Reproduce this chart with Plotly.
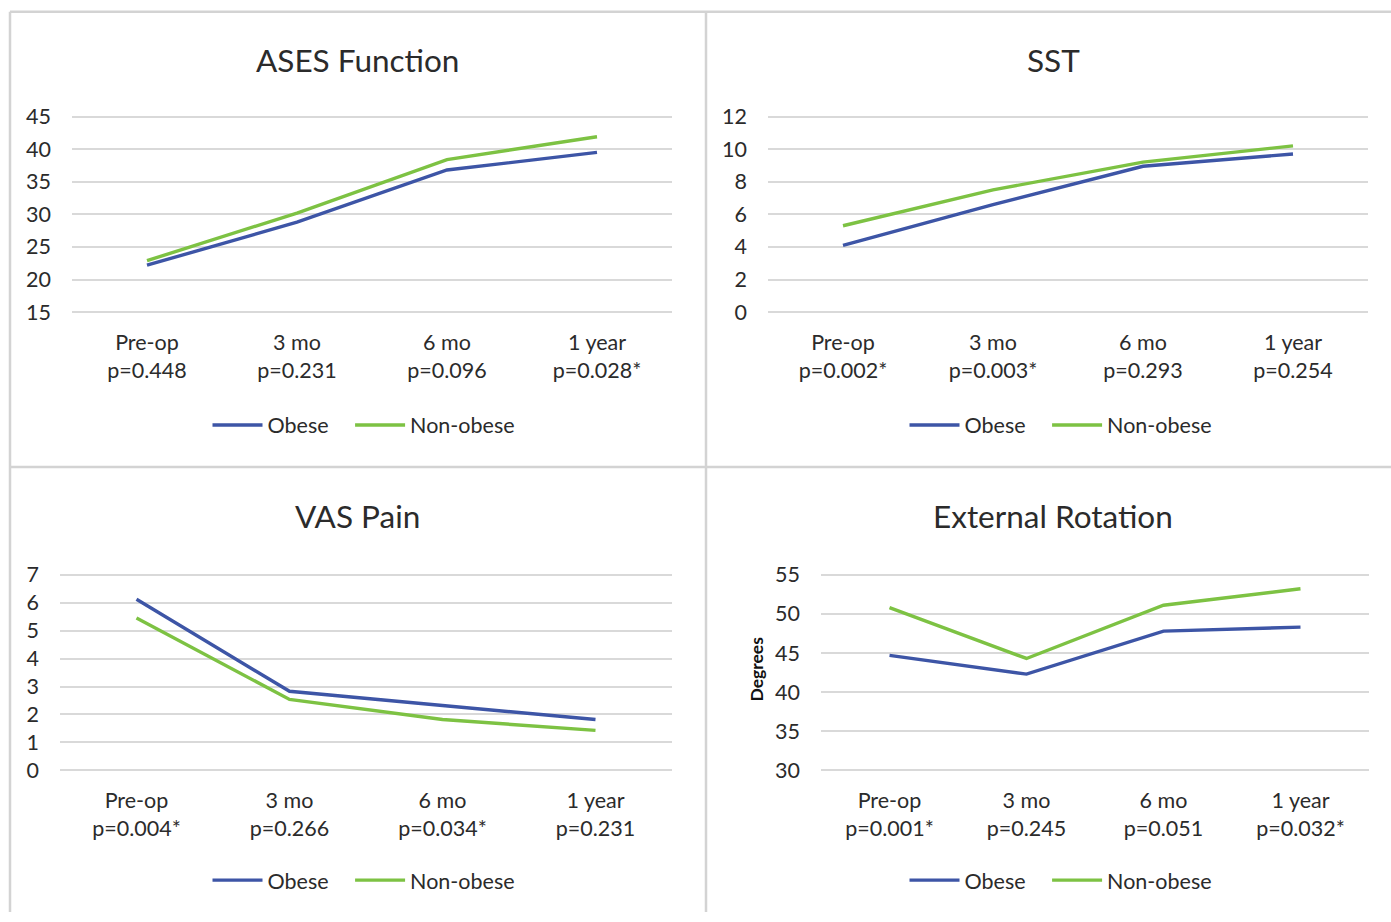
import plotly.graph_objects as go

W, H = 1391, 922

timepoints = ["Pre-op", "3 mo", "6 mo", "1 year"]

ases_p = ["p=0.448", "p=0.231", "p=0.096", "p=0.028*"]
ases_obese = [22.2, 28.8, 36.8, 39.5]
ases_nonobese = [22.9, 30.2, 38.4, 41.9]

sst_p = ["p=0.002*", "p=0.003*", "p=0.293", "p=0.254"]
sst_obese = [4.1, 6.6, 8.95, 9.7]
sst_nonobese = [5.3, 7.5, 9.2, 10.2]

vas_p = ["p=0.004*", "p=0.266", "p=0.034*", "p=0.231"]
vas_obese = [6.12, 2.83, 2.32, 1.82]
vas_nonobese = [5.45, 2.54, 1.82, 1.43]

er_p = ["p=0.001*", "p=0.245", "p=0.051", "p=0.032*"]
er_obese = [44.7, 42.3, 47.8, 48.3]
er_nonobese = [50.8, 44.3, 51.1, 53.2]

titles = ["ASES Function", "SST", "VAS Pain", "External Rotation"]
y_ranges = [[15, 45], [0, 12], [0, 7], [30, 55]]
y_dticks = [5, 2, 1, 5]

BLUE = "#3D55A6"
GREEN = "#7DC243"
GRID = "#D9D9D9"
TXT = "#2B2B2B"
FONT = "Lato"

# target positions in picture pixels: (x0, x1, ytop, ybottom)
boxes = [(72, 672, 117, 313), (768, 1368, 117, 313),
         (60, 672, 576, 772), (821, 1369, 576, 772)]
title_pos = [(357, 60), (1053, 60), (357, 517), (1053, 517)]
legend_pos = [(364, 426), (1061, 426), (364, 882), (1061, 882)]

# the captured page is slightly compressed vertically; map picture y to figure y
Y_OFF, Y_SCALE = 10.3, 0.980

def fy(y):
    return (y - Y_OFF) / Y_SCALE

def px(x):
    return x / W

def py(y):
    return 1 - fy(y) / H

series = [
    (ases_obese, ases_nonobese, ases_p),
    (sst_obese, sst_nonobese, sst_p),
    (vas_obese, vas_nonobese, vas_p),
    (er_obese, er_nonobese, er_p),
]

PAD = 3  # px of extra room so edge gridlines are drawn
NB = "\u00a0"

fig = go.Figure()
layout = {}
annotations = []
for i, (ob, nob, pv) in enumerate(series):
    n = i + 1
    sfx = "" if n == 1 else str(n)
    lg = "legend" if n == 1 else "legend%d" % n
    ticktext = ["%s<br>%s" % (t, p) for t, p in zip(timepoints, pv)]
    for name, vals, col in (("Obese" + NB * 3, ob, BLUE),
                            ("Non-obese", nob, GREEN)):
        fig.add_trace(go.Scatter(
            x=timepoints, y=vals, name=name, mode="lines",
            line=dict(color=col, width=3.4),
            xaxis="x" + sfx, yaxis="y" + sfx, legend=lg,
            hoverinfo="skip"))
    x0, x1, yt, yb = boxes[i]
    lo, hi = y_ranges[i]
    fyt, fyb = fy(yt), fy(yb)
    upp = (hi - lo) / (fyb - fyt)  # units per figure pixel
    layout["xaxis" + sfx] = dict(
        domain=[px(x0), px(x1)], anchor="y" + sfx, type="category",
        range=[-0.5, 3.5], tickmode="array", tickvals=timepoints,
        ticktext=ticktext, showgrid=False, zeroline=False,
        showline=False, ticks="", ticklabelstandoff=12,
        tickfont=dict(family=FONT, size=21.5, color=TXT), fixedrange=True)
    layout["yaxis" + sfx] = dict(
        domain=[1 - (fyb + PAD) / H, 1 - (fyt - PAD) / H], anchor="x" + sfx,
        range=[lo - PAD * upp, hi + PAD * upp],
        dtick=y_dticks[i], tick0=0, showgrid=True, gridcolor=GRID,
        gridwidth=2, zeroline=False, showline=False, ticks="",
        ticklabelstandoff=20,
        tickfont=dict(family=FONT, size=21.5, color=TXT), fixedrange=True)
    lx, ly = legend_pos[i]
    layout[lg] = dict(
        x=px(lx), y=py(ly), xanchor="center", yanchor="middle",
        orientation="h", itemwidth=50, tracegroupgap=0,
        font=dict(family=FONT, size=21.5, color=TXT),
        bgcolor="rgba(0,0,0,0)")
    tx, ty = title_pos[i]
    annotations.append(dict(
        text=titles[i], x=px(tx), y=py(ty), xref="paper", yref="paper",
        xanchor="center", yanchor="middle", showarrow=False,
        font=dict(family=FONT, size=31.5, color=TXT)))

annotations.append(dict(
    text="<b>Degrees</b>", x=px(757), y=py(671), xref="paper", yref="paper",
    xanchor="center", yanchor="middle", showarrow=False, textangle=-90,
    font=dict(family=FONT, size=17.5, color="#111111")))

BORDER = "#D3D3D3"
shapes = []
for (a, b, c, d) in [(10, 12, 1391, 12), (10, 468, 1391, 468),
                     (10, 12, 10, 922), (706, 12, 706, 922)]:
    shapes.append(dict(type="line", xref="paper", yref="paper",
                       x0=px(a), y0=py(b), x1=px(c), y1=max(py(d), 0),
                       line=dict(color=BORDER, width=2.5)))

fig.update_layout(
    width=W, height=H, autosize=False, margin=dict(l=0, r=0, t=0, b=0),
    paper_bgcolor="white", plot_bgcolor="white",
    annotations=annotations, shapes=shapes, showlegend=True,
    **layout)

POST = """
var de = document.documentElement, b = document.body;
[de, b].forEach(function(e){
  e.style.margin='0'; e.style.padding='0'; e.style.overflow='hidden';
});
"""

fig.write_html(
    "out.html",
    config={"displayModeBar": False, "responsive": False},
    post_script=POST)
